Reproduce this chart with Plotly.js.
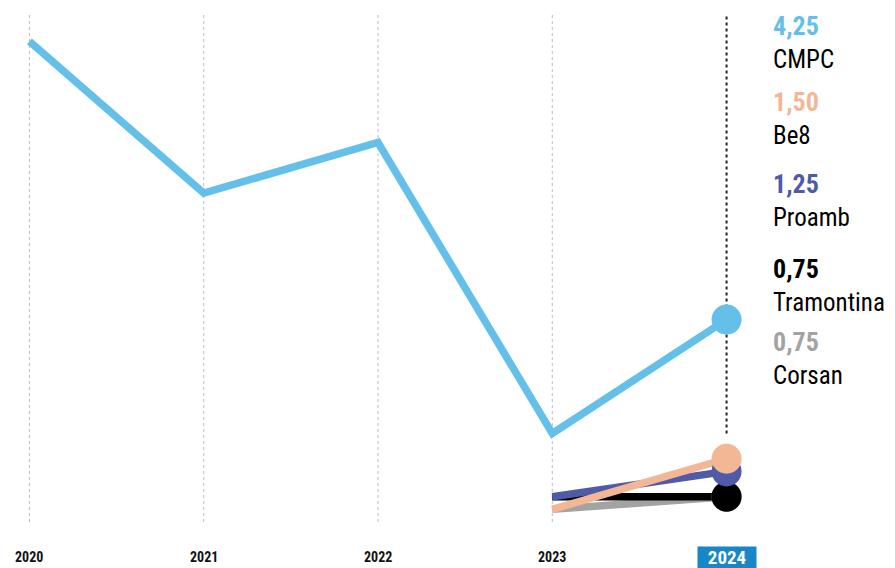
<!DOCTYPE html>
<html>
<head>
<meta charset="utf-8">
<script src="https://cdn.plot.ly/plotly-3.0.1.min.js"></script>
<style>html,body{margin:0;padding:0;background:#fff;}#chart{width:895px;height:568px;}</style>
</head>
<body>
<div id="chart"></div>
<script>
// ---- data ----
const years = [2020, 2021, 2022, 2023, 2024];
const cmpc = [9.75, 6.75, 7.75, 2.00, 4.25];
const be8 = [null, null, null, 0.50, 1.50];
const proamb = [null, null, null, 0.75, 1.25];
const tramontina = [null, null, null, 0.75, 0.75];
const corsan = [null, null, null, 0.50, 0.75];
const names = ["CMPC", "Be8", "Proamb", "Tramontina", "Corsan"];
const colors = ["#64c0e8", "#f3b796", "#4f5ba6", "#000000", "#a3a3a3"];
const tickLabels = ["2020", "2021", "2022", "2023", "2024"];

const FONT = "'Liberation Sans Narrow', 'Roboto Condensed', 'DejaVu Sans Condensed', 'Arial Narrow', sans-serif";
const series = [cmpc, be8, proamb, tramontina, corsan];

// draw order: bottom to top
const order = [4, 3, 2, 1, 0];
const traces = order.map(i => ({
  x: years, y: series[i], type: 'scatter', mode: 'lines',
  line: {color: colors[i], width: 7.5}, connectgaps: false,
  hoverinfo: 'skip', showlegend: false, cliponaxis: false
}));
// end markers
order.forEach(i => {
  traces.push({
    x: [years[years.length - 1]], y: [series[i][series[i].length - 1]],
    type: 'scatter', mode: 'markers',
    marker: {color: colors[i], size: 30},
    hoverinfo: 'skip', showlegend: false, cliponaxis: false
  });
});

const fmt = v => v.toFixed(2).replace('.', ',');
const last = years[years.length - 1];
const smallMax = Math.max(be8[4], proamb[4], tramontina[4], corsan[4]);

const shapes = years.slice(0, -1).map(yr => ({
  type: 'line', xref: 'x', yref: 'paper', x0: yr, x1: yr, y0: 0, y1: 1,
  line: {color: '#bdbdbd', width: 1, dash: 'dot'}, layer: 'below'
}));
shapes.push({
  type: 'line', xref: 'x', yref: 'y', x0: last, x1: last, y0: smallMax + 0.5, y1: 10.3,
  line: {color: '#222', width: 2, dash: 'dot'}, layer: 'below'
});

const annotations = [];
tickLabels.forEach((t, k) => {
  const isLast = k === tickLabels.length - 1;
  annotations.push({
    x: years[k], y: 0, xref: 'x', yref: 'paper', yanchor: 'middle', xanchor: 'center',
    yshift: -35, showarrow: false, text: '<b>' + t + '</b>',
    font: {family: FONT, size: isLast ? 19 : 14, color: isLast ? '#fff' : '#111'},
    bgcolor: isLast ? '#1787c8' : 'rgba(0,0,0,0)',
    width: isLast ? 58 : null, height: isLast ? 21 : null, borderpad: 0
  });
});
// right-hand labels (pixel centre of each two-line block)
const labelCentersPx = [42, 118, 200, 285, 358];
const plotTop = 15, plotH = 507;
const toPaper = px => 1 - (px - plotTop) / plotH;
names.forEach((n, i) => {
  annotations.push({
    x: last, xref: 'x', xanchor: 'left', xshift: 44,
    y: toPaper(labelCentersPx[i]), yref: 'paper', yanchor: 'middle',
    showarrow: false, align: 'left',
    text: '<b><span style="color:' + colors[i] + ';font-size:26px">' + fmt(series[i][4]) +
          '</span></b><br>' + n,
    font: {family: FONT, size: 25, color: '#000'}
  });
});

const layout = {
  width: 895, height: 568,
  margin: {l: 11.5, r: 150.5, t: 15, b: 46},
  paper_bgcolor: '#fff', plot_bgcolor: '#fff',
  xaxis: {range: [2019.9, 2024.1], showgrid: false, zeroline: false, showticklabels: false, ticks: '', fixedrange: true},
  yaxis: {range: [0.25, 10.27], showgrid: false, zeroline: false, showticklabels: false, ticks: '', fixedrange: true},
  shapes: shapes, annotations: annotations, showlegend: false
};

Plotly.newPlot('chart', traces, layout, {displayModeBar: false, staticPlot: true});
</script>
</body>
</html>
